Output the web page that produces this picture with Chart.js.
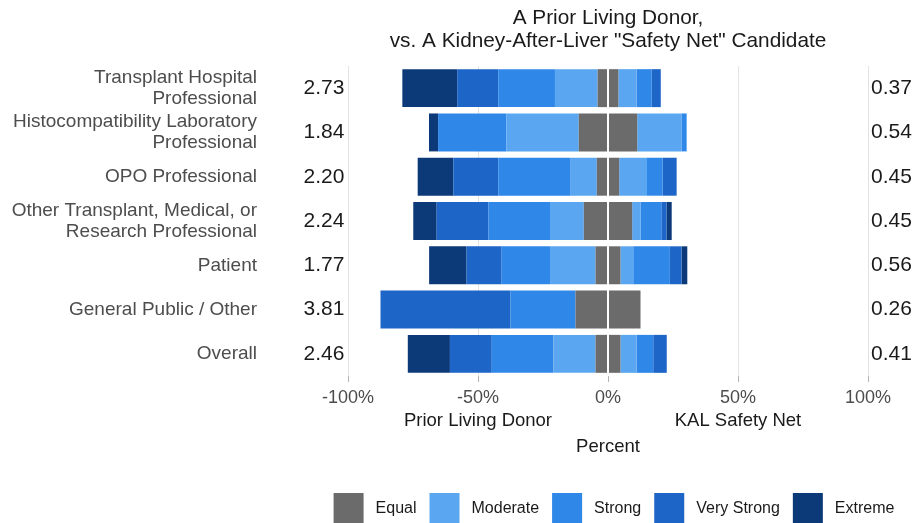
<!DOCTYPE html>
<html>
<head>
<meta charset="utf-8">
<script src="https://cdn.jsdelivr.net/npm/chart.js@4"></script>
<style>
html,body{margin:0;padding:0;background:#fff;}
canvas{display:block;}
</style>
</head>
<body>
<canvas id="c" width="917" height="523"></canvas>
<script>
// ---- data ----
const titleLines = ['A Prior Living Donor,', 'vs. A Kidney-After-Liver "Safety Net" Candidate'];
const categories = [
  ['Transplant Hospital', 'Professional'],
  ['Histocompatibility Laboratory', 'Professional'],
  'OPO Professional',
  ['Other Transplant, Medical, or', 'Research Professional'],
  'Patient',
  'General Public / Other',
  'Overall'
];
const donorScores = ['2.73', '1.84', '2.20', '2.24', '1.77', '3.81', '2.46'];
const kalScores = ['0.37', '0.54', '0.45', '0.45', '0.56', '0.26', '0.41'];
const levels = ['Equal', 'Moderate', 'Strong', 'Very Strong', 'Extreme'];
const tickLabels = ['-100%', '-50%', '0%', '50%', '100%'];
const sideLabels = ['Prior Living Donor', 'KAL Safety Net'];
const axisTitle = 'Percent';

// percent of respondents; "Equal" is split half to each side
const equalTotal      = [8.0, 22.5, 8.6, 18.6, 9.6, 25.0, 9.6];
const donorModerate   = [16.4, 27.8, 10.3, 13.0, 17.5, 0.0, 16.2];
const donorStrong     = [21.8, 26.3, 27.6, 23.7, 18.6, 25.0, 23.7];
const donorVeryStrong = [15.8, 0.0, 17.3, 19.9, 13.5, 50.0, 16.1];
const donorExtreme    = [21.1, 3.5, 13.7, 9.0, 14.4, 0.0, 16.2];
const kalModerate     = [7.0, 17.0, 10.7, 3.2, 4.9, 0.0, 6.2];
const kalStrong       = [5.8, 2.0, 6.0, 8.0, 14.1, 0.0, 6.4];
const kalVeryStrong   = [3.5, 0.0, 5.4, 2.0, 4.5, 0.0, 5.2];
const kalExtreme      = [0.0, 0.0, 0.0, 2.0, 2.2, 0.0, 0.0];

// ---- style ----
const colors = ['#6b6b6b', '#5ba6f1', '#2f87e8', '#1d65c6', '#0c3978'];
const FONT = "'Liberation Sans', Arial, Helvetica, sans-serif";

const neg = a => a.map(v => -v);
const half = a => a.map(v => v / 2);

const datasets = [
  {label: levels[0], data: neg(half(equalTotal)), backgroundColor: colors[0]},
  {label: levels[1], data: neg(donorModerate), backgroundColor: colors[1]},
  {label: levels[2], data: neg(donorStrong), backgroundColor: colors[2]},
  {label: levels[3], data: neg(donorVeryStrong), backgroundColor: colors[3]},
  {label: levels[4], data: neg(donorExtreme), backgroundColor: colors[4]},
  {label: levels[0], data: half(equalTotal), backgroundColor: colors[0]},
  {label: levels[1], data: kalModerate, backgroundColor: colors[1]},
  {label: levels[2], data: kalStrong, backgroundColor: colors[2]},
  {label: levels[3], data: kalVeryStrong, backgroundColor: colors[3]},
  {label: levels[4], data: kalExtreme, backgroundColor: colors[4]}
].map(d => Object.assign(d, {barPercentage: 0.857, categoryPercentage: 1.0, borderWidth: 0, borderSkipped: false}));

const decor = {
  id: 'decor',
  afterDatasetsDraw(chart) {
    const {ctx, chartArea} = chart;
    const x0 = chart.scales.x.getPixelForValue(0);
    ctx.save();
    ctx.strokeStyle = '#ffffff';
    ctx.lineWidth = 2;
    ctx.beginPath();
    ctx.moveTo(x0, chartArea.top);
    ctx.lineTo(x0, chartArea.bottom);
    ctx.stroke();
    ctx.restore();
  },
  afterDraw(chart) {
    const {ctx, chartArea} = chart;
    const xs = chart.scales.x, ys = chart.scales.y;
    const cx = (chartArea.left + chartArea.right) / 2;
    ctx.save();
    ctx.textBaseline = 'middle';
    // title
    ctx.fillStyle = '#1a1a1a';
    ctx.font = '20.8px ' + FONT;
    ctx.textAlign = 'center';
    ctx.fillText(titleLines[0], cx, 18);
    ctx.fillText(titleLines[1], cx, 41);
    // scores
    ctx.font = '21px ' + FONT;
    categories.forEach((c, i) => {
      const y = ys.getPixelForValue(i);
      ctx.textAlign = 'center';
      ctx.fillText(donorScores[i], 324, y);
      ctx.textAlign = 'left';
      ctx.fillText(kalScores[i], 871, y);
    });
    // side labels & axis title
    ctx.font = '18.5px ' + FONT;
    ctx.textAlign = 'center';
    ctx.fillText(sideLabels[0], xs.getPixelForValue(-50), 421);
    ctx.fillText(sideLabels[1], xs.getPixelForValue(50), 421);
    ctx.fillText(axisTitle, xs.getPixelForValue(0), 447);
    // legend
    ctx.font = '16px ' + FONT;
    const box = 30, gapIn = 12, gapOut = 13;
    let total = 0;
    const widths = levels.map(l => ctx.measureText(l).width);
    widths.forEach((w, i) => { total += box + gapIn + w + (i < levels.length - 1 ? gapOut : 0); });
    let x = 614 - total / 2;
    const ly = 508;
    ctx.textAlign = 'left';
    levels.forEach((l, i) => {
      ctx.fillStyle = colors[i];
      ctx.fillRect(x, ly - box / 2, box, box);
      x += box + gapIn;
      ctx.fillStyle = '#1a1a1a';
      ctx.fillText(l, x, ly + 1);
      x += widths[i] + gapOut;
    });
    ctx.restore();
  }
};

new Chart(document.getElementById('c'), {
  type: 'bar',
  data: {labels: categories, datasets},
  options: {
    indexAxis: 'y',
    responsive: false,
    animation: false,
    layout: {padding: {top: 66, right: 49, left: 0, bottom: 0}},
    plugins: {legend: {display: false}, title: {display: false}, tooltip: {enabled: false}},
    scales: {
      x: {
        stacked: true,
        min: -100, max: 100,
        afterBuildTicks: s => { s.ticks = [-100, -50, 0, 50, 100].map(v => ({value: v})); },
        afterFit: s => { s.height = 147; s.paddingLeft = 0; s.paddingRight = 0; },
        ticks: {
          callback: (v, i) => tickLabels[i],
          color: '#4d4d4d',
          font: {family: FONT, size: 18},
          padding: 5,
          maxRotation: 0,
          autoSkip: false
        },
        grid: {color: '#e3e3e3', lineWidth: 1, tickLength: 6, tickColor: '#b3b3b3', drawOnChartArea: true},
        border: {display: false}
      },
      y: {
        stacked: true,
        afterFit: s => { s.width = 348; s.paddingTop = 0; s.paddingBottom = 0; },
        ticks: {
          color: '#4d4d4d',
          font: {family: FONT, size: 19, lineHeight: 1.12},
          padding: 83,
          autoSkip: false
        },
        grid: {display: false},
        border: {display: false}
      }
    }
  },
  plugins: [decor]
});
</script>
</body>
</html>
